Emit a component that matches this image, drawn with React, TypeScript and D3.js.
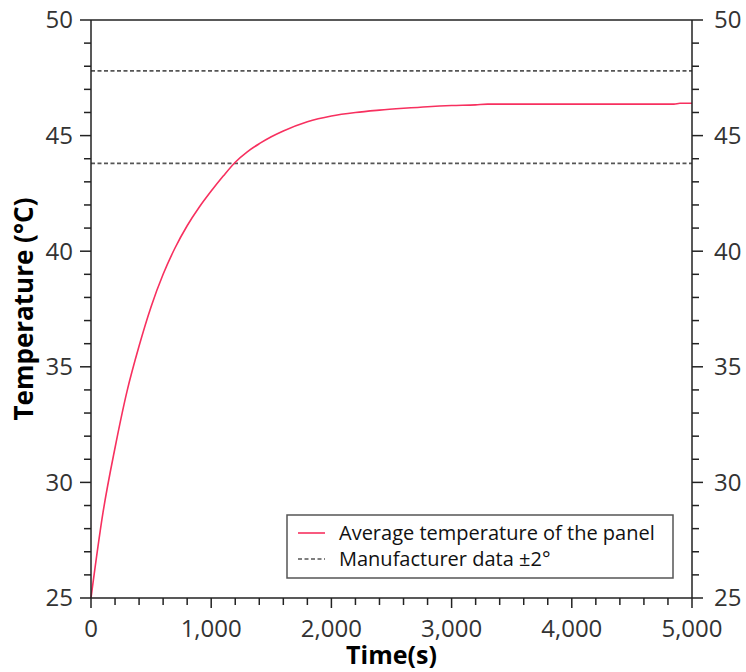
import React from "react";
import * as d3 from "d3";

const timeSeconds = [0, 100, 200, 300, 400, 500, 600, 700, 800, 900, 1000, 1100, 1200, 1300, 1400, 1500, 1600, 1800, 2000, 2200, 2400, 2600, 2800, 3000, 3200, 3300, 4850, 4900, 5000];
const panelTemperature = [25, 28.7, 31.5, 33.95, 35.9, 37.6, 39.0, 40.15, 41.1, 41.9, 42.6, 43.25, 43.85, 44.3, 44.65, 44.95, 45.2, 45.6, 45.85, 46.0, 46.1, 46.18, 46.25, 46.3, 46.33, 46.36, 46.36, 46.4, 46.4];
const manufacturerBounds = [47.8, 43.8];
const xTicks = [0, 1000, 2000, 3000, 4000, 5000];
const yTicks = [25, 30, 35, 40, 45, 50];
const legendLabels = ["Average temperature of the panel", "Manufacturer data ±2°"];

const W = 746, H = 672;
const M = { left: 91, right: 692, top: 20, bottom: 598 };
const FONT = "'Open Sans', 'DejaVu Sans', sans-serif";
const RED = "#f7305f";
const AXIS = "#222";
const TICKTEXT = "#333";

export default function App() {
  const x = d3.scaleLinear().domain([0, 5000]).range([M.left, M.right]);
  const y = d3.scaleLinear().domain([25, 50]).range([M.bottom, M.top]);
  const pts = timeSeconds.map((t, i) => [t, panelTemperature[i]] as [number, number]);
  const line = d3.line<[number, number]>().x(d => x(d[0])).y(d => y(d[1])).curve(d3.curveMonotoneX);

  const xMinor = d3.range(0, 5001, 200).filter(v => !xTicks.includes(v));
  const yMinor = d3.range(25, 50.01, 1).filter(v => !yTicks.includes(v));

  const legX = 287, legY = 515, legW = 386, legH = 63;

  return (
    <svg width={W} height={H} style={{ position: "absolute", left: 0, top: 0, background: "#fff" }} fontFamily={FONT}>
      {manufacturerBounds.map((v, i) => (
        <line key={"m" + i} x1={M.left} x2={M.right} y1={y(v)} y2={y(v)} stroke="#555" strokeWidth={1.6} strokeDasharray="4,2.5" />
      ))}
      <path d={line(pts) || ""} fill="none" stroke={RED} strokeWidth={1.6} />

      <line x1={M.left} x2={M.right} y1={M.top} y2={M.top} stroke={AXIS} strokeWidth={1.5} />
      <line x1={M.left} x2={M.left} y1={M.top} y2={M.bottom} stroke={AXIS} strokeWidth={1.5} />
      <line x1={M.right} x2={M.right} y1={M.top} y2={M.bottom} stroke={AXIS} strokeWidth={1.5} />
      <line x1={M.left} x2={M.right} y1={M.bottom} y2={M.bottom} stroke={AXIS} strokeWidth={1.5} />

      {yTicks.map(v => (
        <g key={"yt" + v}>
          <line x1={M.left - 11} x2={M.left} y1={y(v)} y2={y(v)} stroke={AXIS} strokeWidth={1.5} />
          <line x1={M.right} x2={M.right + 11} y1={y(v)} y2={y(v)} stroke={AXIS} strokeWidth={1.5} />
          <text x={M.left - 18} y={y(v)} dy="0.35em" textAnchor="end" fontSize={24} fill={TICKTEXT}>{v}</text>
          <text x={M.right + 22} y={y(v)} dy="0.35em" textAnchor="start" fontSize={24} fill={TICKTEXT}>{v}</text>
        </g>
      ))}
      {yMinor.map(v => (
        <g key={"ym" + v}>
          <line x1={M.left - 7} x2={M.left} y1={y(v)} y2={y(v)} stroke={AXIS} strokeWidth={1.5} />
          <line x1={M.right} x2={M.right + 7} y1={y(v)} y2={y(v)} stroke={AXIS} strokeWidth={1.5} />
        </g>
      ))}

      {xTicks.map(v => (
        <g key={"xt" + v}>
          <line x1={x(v)} x2={x(v)} y1={M.bottom} y2={M.bottom + 10} stroke={AXIS} strokeWidth={1.5} />
          <text x={x(v)} y={M.bottom + 39} textAnchor="middle" fontSize={24} fill={TICKTEXT}>{d3.format(",")(v)}</text>
        </g>
      ))}
      {xMinor.map(v => (
        <line key={"xm" + v} x1={x(v)} x2={x(v)} y1={M.bottom} y2={M.bottom + 7} stroke={AXIS} strokeWidth={1.5} />
      ))}

      <text x={(M.left + M.right) / 2} y={664} textAnchor="middle" fontSize={25} fontWeight="bold" fill="#000">Time(s)</text>
      <text transform={`translate(33,${(M.top + M.bottom) / 2}) rotate(-90)`} textAnchor="middle" fontSize={26} fontWeight="bold" fill="#000">Temperature (°C)</text>

      <rect x={legX} y={legY} width={legW} height={legH} fill="#fff" stroke="#555" strokeWidth={1.5} />
      <line x1={legX + 11} x2={legX + 38} y1={legY + 18} y2={legY + 18} stroke={RED} strokeWidth={1.6} />
      <line x1={legX + 11} x2={legX + 38} y1={legY + 44} y2={legY + 44} stroke="#555" strokeWidth={1.6} strokeDasharray="4,2.5" />
      <text x={legX + 52} y={legY + 18} dy="0.35em" fontSize={20} fill="#111">{legendLabels[0]}</text>
      <text x={legX + 52} y={legY + 44} dy="0.35em" fontSize={20} fill="#111">{legendLabels[1]}</text>
    </svg>
  );
}
